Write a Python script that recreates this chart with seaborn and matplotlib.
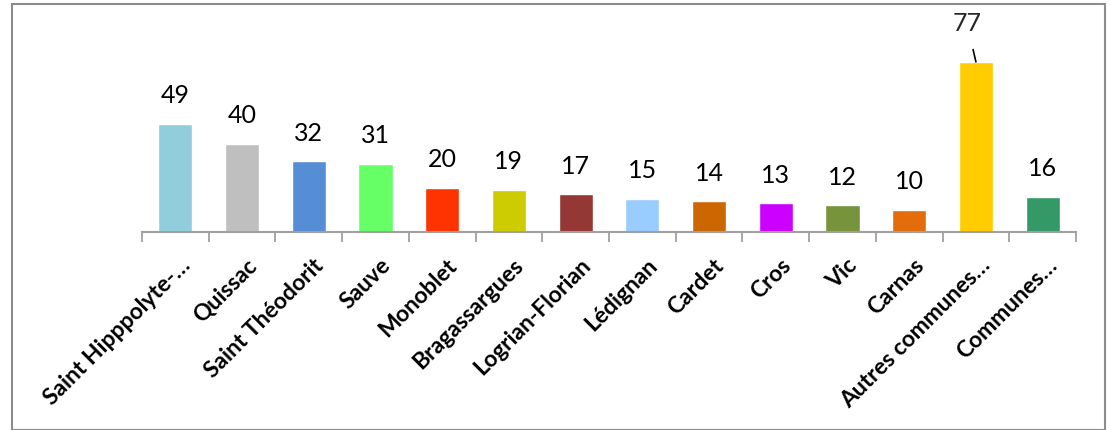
import matplotlib

matplotlib.use("Agg")
import matplotlib.pyplot as plt
import matplotlib.transforms as mtransforms
import pandas as pd
import seaborn as sns
from matplotlib.patches import Rectangle


COMMUNES = [
    "Saint Hipppolyte-…",
    "Quissac",
    "Saint Théodorit",
    "Sauve",
    "Monoblet",
    "Bragassargues",
    "Logrian-Florian",
    "Lédignan",
    "Cardet",
    "Cros",
    "Vic",
    "Carnas",
    "Autres communes…",
    "Communes…",
]
COUNTS = [49, 40, 32, 31, 20, 19, 17, 15, 14, 13, 12, 10, 77, 16]
BAR_COLORS = [
    "#92CDDC",
    "#BFBFBF",
    "#558ED5",
    "#66FF66",
    "#FF3300",
    "#CCCC00",
    "#953735",
    "#99CCFF",
    "#CC6600",
    "#CC00FF",
    "#77933C",
    "#E46C0A",
    "#FFCC00",
    "#339966",
]

AXIS_GREY = "#A0A0A0"


def setup_style() -> None:
    sns.set_theme(style="white")
    plt.rcParams["font.family"] = ["Lato", "DejaVu Sans"]


def main() -> None:
    setup_style()
    df = pd.DataFrame({"commune": COMMUNES, "count": COUNTS})
    palette_map = dict(zip(COMMUNES, BAR_COLORS))

    fig = plt.figure(figsize=(11.11, 4.30), dpi=100)
    ax = fig.add_axes([0.1278, 0.4605, 0.8407, 0.493])
    sns.barplot(
        data=df,
        x="commune",
        y="count",
        hue="commune",
        palette=palette_map,
        dodge=False,
        legend=False,
        width=0.51,
        saturation=1,
        ax=ax,
    )

    ax.set_ylim(0, 96)
    ax.set_xlim(-0.5, len(COMMUNES) - 0.5)
    ax.set_xlabel("")
    ax.set_ylabel("")
    ax.set_yticks([])

    for side in ["top", "right", "left"]:
        ax.spines[side].set_visible(False)
    ax.spines["bottom"].set_color(AXIS_GREY)
    ax.spines["bottom"].set_linewidth(1.5)

    # tick marks sit between the categories, labels on the categories
    ax.set_xticks([i - 0.5 for i in range(len(COMMUNES) + 1)], minor=True)
    ax.tick_params(axis="x", which="minor", length=7, width=1.3, color=AXIS_GREY, direction="out", bottom=True)
    ax.tick_params(axis="x", which="major", length=0, pad=0)
    ax.set_xticks(range(len(COMMUNES)))
    ax.set_xticklabels(COMMUNES, rotation=45, ha="right", va="top", rotation_mode="anchor",
                       fontsize=16.5, fontweight="bold", color="black")
    shift = mtransforms.ScaledTranslation(4 / 100, -23 / 100, fig.dpi_scale_trans)
    for label in ax.get_xticklabels():
        label.set_transform(label.get_transform() + shift)

    for i, value in enumerate(COUNTS):
        if value == max(COUNTS):
            ax.annotate(
                f"{value}",
                xy=(i, value),
                xytext=(i - 0.13, value + 12),
                ha="center",
                va="bottom",
                fontsize=18,
                arrowprops=dict(arrowstyle="-", color="black", lw=1.2, shrinkA=8, shrinkB=0),
            )
            continue
        ax.text(i, value + 7.5, f"{value}", ha="center", va="bottom", fontsize=18, color="black")

    fig.patches.append(
        Rectangle((0.011, 0.0), 0.984, 0.99, transform=fig.transFigure, fill=False,
                  edgecolor="#8C8C8C", linewidth=1.5)
    )

    fig.savefig("out.png", dpi=100)
    plt.close(fig)


if __name__ == "__main__":
    main()
